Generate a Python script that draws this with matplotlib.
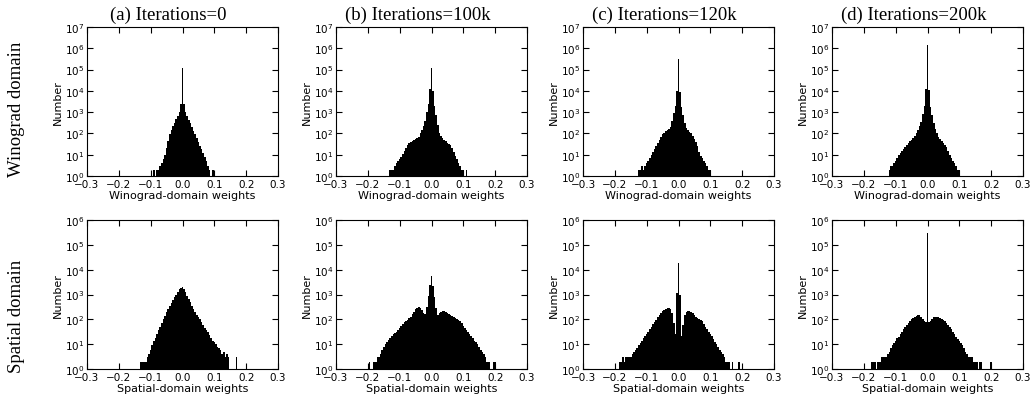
import numpy as np
import matplotlib
matplotlib.use("Agg")
import matplotlib.pyplot as plt
from matplotlib.ticker import LogLocator, NullLocator

# histogram bin centres (weight value), 0.005 apart from -0.2 to 0.2
weight_bins = np.round(np.linspace(-0.2, 0.2, 81), 3)

titles = ["(a) Iterations=0", "(b) Iterations=100k",
          "(c) Iterations=120k", "(d) Iterations=200k"]
row_labels = ["Winograd domain", "Spatial domain"]
x_labels = ["Winograd-domain weights", "Spatial-domain weights"]
x_ticks = [-0.3, -0.2, -0.1, 0.0, 0.1, 0.2, 0.3]
y_tops = [1e7, 1e6]

# counts per bin, rows of 9 bins: -0.2..-0.16, ..., -0.02..0.02, ..., 0.16..0.2
wino_0k = [
    0, 0, 0, 0, 0, 0, 0, 0, 0,
    0, 0, 0, 0, 0, 0, 0, 0, 0,
    0, 1, 1, 1, 2, 1, 2, 2, 3,
    4, 6, 10, 20, 45, 95, 150, 215, 320,
    470, 680, 1000, 2500, 120000, 2500, 1000, 670, 450,
    300, 200, 135, 92, 60, 40, 27, 18, 12,
    8, 5, 3, 2, 1, 2, 1, 0, 0,
    0, 0, 0, 0, 0, 0, 0, 0, 0,
    0, 0, 0, 0, 0, 0, 0, 0, 0,
]
wino_100k = [
    0, 0, 0, 0, 0, 0, 0, 0, 0,
    0, 0, 0, 0, 1, 2, 2, 2, 3,
    4, 5, 6, 8, 11, 15, 20, 28, 35,
    40, 45, 50, 55, 60, 68, 100, 150, 230,
    400, 1000, 2500, 12000, 125000, 10000, 2000, 700, 250,
    100, 75, 58, 48, 42, 37, 33, 28, 20,
    13, 9, 6, 4, 3, 2, 2, 1, 2,
    0, 0, 0, 0, 0, 0, 0, 0, 0,
    0, 0, 0, 0, 0, 0, 0, 0, 0,
]
wino_120k = [
    0, 0, 0, 0, 0, 0, 0, 0, 0,
    0, 0, 0, 0, 0, 1, 2, 2, 3,
    2, 3, 4, 5, 7, 10, 13, 18, 25,
    35, 50, 70, 95, 110, 125, 140, 160, 190,
    400, 900, 2000, 10000, 300000, 9000, 1800, 700, 300,
    180, 140, 115, 100, 75, 55, 40, 25, 14,
    9, 7, 5, 4, 3, 2, 2, 1, 0,
    0, 0, 0, 0, 0, 0, 0, 0, 0,
    0, 0, 0, 0, 0, 0, 0, 0, 0,
]
wino_200k = [
    0, 0, 0, 0, 0, 0, 0, 0, 0,
    0, 0, 0, 0, 0, 0, 1, 2, 3,
    3, 4, 5, 7, 10, 12, 15, 19, 24,
    30, 36, 42, 48, 58, 75, 100, 150, 220,
    350, 800, 2000, 12000, 1400000, 11000, 1800, 700, 300,
    170, 100, 70, 52, 42, 35, 30, 22, 15,
    10, 7, 5, 4, 3, 2, 2, 1, 0,
    0, 0, 0, 0, 0, 0, 0, 0, 0,
    0, 0, 0, 0, 0, 0, 0, 0, 0,
]
spat_0k = [
    0, 0, 0, 0, 0, 0, 0, 0, 0,
    0, 0, 0, 0, 0, 2, 2, 2, 2,
    3, 4, 6, 9, 13, 18, 26, 36, 50,
    70, 100, 140, 190, 260, 350, 470, 620, 800,
    1000, 1300, 1600, 1900, 2000, 1700, 1250, 900, 650,
    480, 360, 270, 200, 150, 120, 100, 75, 58,
    45, 36, 30, 24, 18, 14, 12, 10, 8,
    7, 6, 4, 5, 3, 4, 3, 1, 0,
    0, 0, 3, 0, 0, 0, 0, 0, 0,
]
spat_100k = [
    1, 2, 1, 0, 2, 2, 3, 3, 4,
    6, 8, 10, 12, 15, 18, 21, 25, 28,
    32, 38, 45, 55, 65, 75, 85, 95, 110,
    130, 160, 200, 250, 285, 300, 290, 240, 180,
    170, 300, 900, 2500, 5500, 2200, 800, 280, 150,
    175, 205, 220, 215, 200, 185, 170, 155, 140,
    128, 117, 107, 98, 82, 68, 56, 46, 38,
    32, 26, 21, 17, 14, 12, 10, 8, 6,
    5, 4, 3, 2, 2, 1, 0, 2, 2,
]
spat_120k = [
    0, 0, 0, 2, 2, 3, 2, 3, 3,
    3, 3, 4, 5, 6, 7, 9, 11, 14,
    17, 21, 26, 32, 40, 50, 62, 78, 98,
    120, 145, 175, 210, 245, 270, 285, 280, 250,
    180, 70, 25, 1100, 18000, 1000, 22, 60, 150,
    205, 225, 220, 200, 175, 150, 130, 115, 105,
    98, 82, 65, 50, 40, 32, 26, 21, 16,
    12, 10, 8, 6, 5, 4, 3, 2, 2,
    2, 1, 2, 1, 0, 0, 2, 0, 0,
]
spat_200k = [
    0, 0, 0, 0, 0, 2, 2, 2, 1,
    2, 2, 3, 3, 3, 3, 4, 5, 7,
    9, 11, 13, 17, 20, 25, 31, 39, 48,
    60, 73, 88, 100, 115, 128, 140, 150, 145,
    125, 100, 85, 80, 300000, 80, 85, 100, 120,
    130, 128, 120, 112, 105, 98, 85, 72, 60,
    50, 40, 32, 25, 20, 16, 13, 11, 9,
    7, 5, 4, 3, 3, 3, 2, 2, 2,
    1, 2, 2, 0, 0, 0, 0, 0, 2,
]

counts = [
    [wino_0k, wino_100k, wino_120k, wino_200k],
    [spat_0k, spat_100k, spat_120k, spat_200k],
]

plt.rcParams.update({
    "font.family": "DejaVu Sans",
    "font.size": 7.5,
    "axes.linewidth": 0.8,
    "xtick.direction": "in",
    "ytick.direction": "in",
    "xtick.top": True,
    "ytick.right": True,
    "xtick.major.size": 4,
    "ytick.major.size": 4,
    "xtick.major.pad": 2,
    "ytick.major.pad": 2,
})

W, H = 1034, 402
fig = plt.figure(figsize=(W / 100, H / 100), dpi=100)

col_left = [87, 336, 583, 832]
row_top = [28, 221]
row_label_y = [109, 316]
ax_w, ax_h = 191, 149

half = 0.0025
edges = np.append(weight_bins - half, weight_bins[-1] + half)

for r in range(2):
    for c in range(4):
        ax = fig.add_axes([col_left[c] / W, 1 - (row_top[r] + ax_h) / H,
                           ax_w / W, ax_h / H])
        ax.hist(weight_bins, bins=edges, weights=counts[r][c],
                histtype="stepfilled", color="black", log=True)
        ax.set_xlim(-0.3, 0.3)
        ax.set_ylim(1, y_tops[r])
        ax.set_xticks(x_ticks)
        ax.yaxis.set_major_locator(LogLocator(base=10, numticks=10))
        ax.yaxis.set_minor_locator(NullLocator())
        ax.set_xlabel(x_labels[r], fontsize=8, labelpad=1)
        ax.set_ylabel("Number", fontsize=8, labelpad=1)
        if r == 0:
            ax.set_title(titles[c], family="Liberation Serif", fontsize=13.5,
                         pad=6, x=0.5 - 14 / ax_w)

for r in range(2):
    fig.text(17 / W, 1 - row_label_y[r] / H, row_labels[r], rotation=90,
             ha="center", va="center", family="Liberation Serif", fontsize=13.5)

fig.savefig("out.png", dpi=100)
